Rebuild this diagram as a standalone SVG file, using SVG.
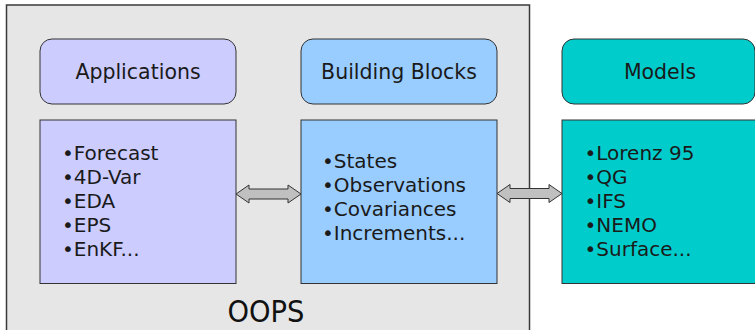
<svg xmlns="http://www.w3.org/2000/svg" width="755" height="330" viewBox="0 0 755 330">
  <style>
    .frame { fill: #e6e6e6; stroke: #3a3a3a; stroke-width: 1.5; }
    .box { stroke: #333; stroke-width: 1; }
    .apps { fill: #ccccff; }
    .blocks { fill: #99ccff; }
    .models { fill: #00cccc; }
    .title { font-family: "DejaVu Sans", sans-serif; font-size: 20.5px; fill: #1a1a1a; text-anchor: middle; }
    .list { font-family: "DejaVu Sans", sans-serif; font-size: 20px; fill: #1a1a1a; }
    .arrow { fill: #c0c0c0; stroke: #333; stroke-width: 1; stroke-linejoin: miter; }
    .label { font-family: "DejaVu Sans", sans-serif; font-size: 30px; fill: #111; text-anchor: middle; }
  </style>

  <!-- OOPS frame -->
  <g id="oops">
    <rect class="frame" x="6.5" y="5" width="523" height="340"/>
    <text class="label" x="266" y="322" textLength="77" lengthAdjust="spacingAndGlyphs">OOPS</text>
  </g>

  <g id="applications">
    <rect class="box apps" x="40" y="39" width="196" height="65" rx="12"/>
    <text class="title" x="138" y="79">Applications</text>
  </g>
  <g id="applications-list">
    <rect class="box apps" x="40" y="120" width="196" height="163.5"/>
    <text class="list" x="62" y="160">•Forecast</text>
    <text class="list" x="62" y="184">•4D-Var</text>
    <text class="list" x="62" y="208">•EDA</text>
    <text class="list" x="62" y="232">•EPS</text>
    <text class="list" x="62" y="256">•EnKF...</text>
  </g>

  <g id="building-blocks">
    <rect class="box blocks" x="301" y="39" width="196" height="65" rx="12"/>
    <text class="title" x="399" y="79">Building Blocks</text>
  </g>
  <g id="building-blocks-list">
    <rect class="box blocks" x="301" y="120" width="196" height="163.5"/>
    <text class="list" x="322" y="167.5">•States</text>
    <text class="list" x="322" y="191.5">•Observations</text>
    <text class="list" x="322" y="215.5">•Covariances</text>
    <text class="list" x="322" y="239.5">•Increments...</text>
  </g>

  <g id="models">
    <rect class="box models" x="562" y="39" width="193" height="65" rx="12"/>
    <text class="title" x="660" y="79">Models</text>
  </g>
  <g id="models-list">
    <rect class="box models" x="562" y="120" width="200" height="163.5"/>
    <text class="list" x="584.5" y="160">•Lorenz 95</text>
    <text class="list" x="584.5" y="184">•QG</text>
    <text class="list" x="584.5" y="208">•IFS</text>
    <text class="list" x="584.5" y="232">•NEMO</text>
    <text class="list" x="584.5" y="256">•Surface...</text>
  </g>

  <!-- double-headed block arrows between the lists -->
  <g id="connectors">
    <path class="arrow" d="M236,194 L249,185 L249,189 L288,189 L288,185 L301,194 L288,203 L288,199 L249,199 L249,203 Z"/>
    <path class="arrow" d="M497,193.5 L510,184.5 L510,188.5 L549,188.5 L549,184.5 L562,193.5 L549,202.5 L549,198.5 L510,198.5 L510,202.5 Z"/>
  </g>
</svg>
